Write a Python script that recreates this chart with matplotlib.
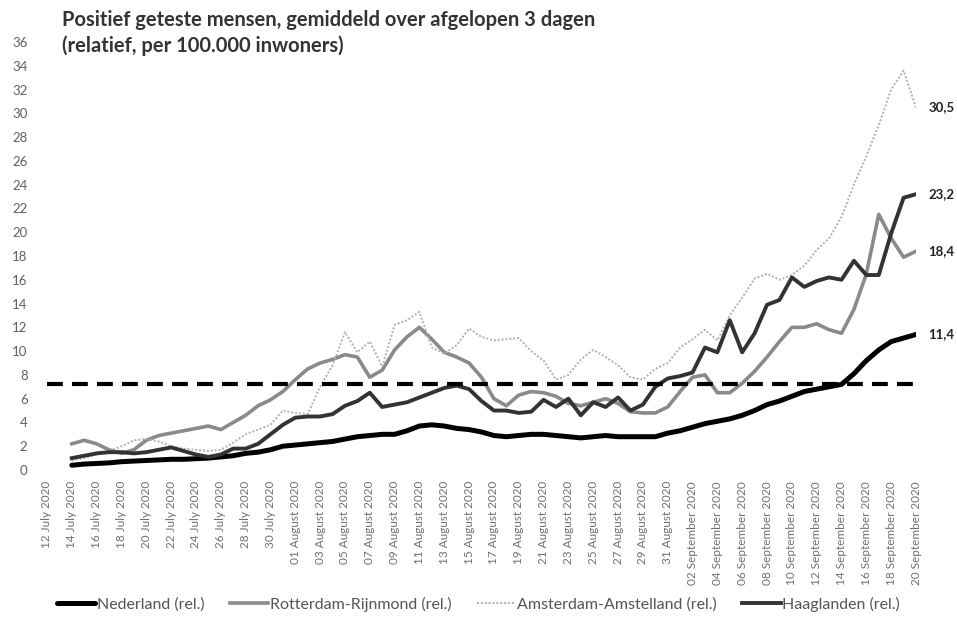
import matplotlib
matplotlib.use('Agg')
import matplotlib.pyplot as plt
import pandas as pd

plt.rcParams['font.family'] = ['Lato', 'DejaVu Sans']

# days since 12 July 2020 (0 = 12 July, 70 = 20 September)
n_days = 71
first_day = 2  # series start on 14 July

nederland = [0.4, 0.5, 0.55, 0.6, 0.7, 0.75, 0.8, 0.85, 0.9, 0.9,
             0.95, 1.0, 1.1, 1.2, 1.4, 1.5, 1.7, 2.0, 2.1, 2.2,
             2.3, 2.4, 2.6, 2.8, 2.9, 3.0, 3.0, 3.3, 3.7, 3.8,
             3.7, 3.5, 3.4, 3.2, 2.9, 2.8, 2.9, 3.0, 3.0, 2.9,
             2.8, 2.7, 2.8, 2.9, 2.8, 2.8, 2.8, 2.8, 3.1, 3.3,
             3.6, 3.9, 4.1, 4.3, 4.6, 5.0, 5.5, 5.8, 6.2, 6.6,
             6.8, 7.0, 7.2, 8.1, 9.2, 10.1, 10.8, 11.1, 11.4]

rotterdam = [2.2, 2.5, 2.2, 1.7, 1.4, 1.7, 2.5, 2.9, 3.1, 3.3,
             3.5, 3.7, 3.4, 4.0, 4.6, 5.4, 5.9, 6.6, 7.6, 8.5,
             9.0, 9.3, 9.7, 9.5, 7.8, 8.4, 10.1, 11.2, 12.0, 11.0,
             9.9, 9.5, 9.0, 7.8, 6.0, 5.4, 6.3, 6.6, 6.5, 6.2,
             5.6, 5.4, 5.7, 6.0, 5.6, 4.9, 4.8, 4.8, 5.3, 6.6,
             7.8, 8.0, 6.5, 6.5, 7.3, 8.3, 9.5, 10.8, 12.0, 12.0,
             12.3, 11.8, 11.5, 13.5, 16.5, 21.5, 19.5, 17.9, 18.4]

amsterdam = [0.8, 1.0, 1.3, 1.6, 2.0, 2.5, 2.6, 2.4, 2.0, 1.8,
             1.7, 1.6, 1.7, 2.3, 3.0, 3.4, 3.8, 5.0, 4.8, 4.7,
             7.0, 8.8, 11.6, 9.9, 10.8, 8.7, 12.2, 12.6, 13.3, 10.3,
             9.8, 10.5, 11.9, 11.2, 10.9, 11.0, 11.1, 10.0, 9.2, 7.6,
             8.0, 9.3, 10.1, 9.5, 8.8, 7.8, 7.6, 8.5, 9.0, 10.3,
             11.0, 11.8, 10.9, 13.0, 14.5, 16.1, 16.5, 16.0, 16.4, 17.2,
             18.5, 19.5, 21.3, 24.0, 26.4, 29.0, 32.0, 33.6, 30.5]

haaglanden = [1.0, 1.2, 1.4, 1.5, 1.5, 1.4, 1.5, 1.7, 1.9, 1.6,
              1.3, 1.1, 1.3, 1.8, 1.8, 2.2, 3.0, 3.8, 4.4, 4.5,
              4.5, 4.7, 5.4, 5.8, 6.5, 5.3, 5.5, 5.7, 6.1, 6.5,
              6.9, 7.1, 6.8, 5.8, 5.0, 5.0, 4.8, 4.9, 5.9, 5.3,
              6.0, 4.6, 5.7, 5.3, 6.1, 5.0, 5.5, 7.0, 7.7, 7.9,
              8.2, 10.3, 9.9, 12.6, 9.9, 11.5, 13.9, 14.3, 16.2, 15.4,
              15.9, 16.2, 16.0, 17.6, 16.4, 16.4, 19.9, 22.9, 23.2]

threshold = 7.2

labels = ['Nederland (rel.)', 'Rotterdam-Rijnmond (rel.)',
          'Amsterdam-Amstelland (rel.)', 'Haaglanden (rel.)']

dates = pd.date_range('2020-07-12', periods=n_days, freq='D')
tick_idx = list(range(0, n_days, 2))
tick_labels = [f"{dates[i].day:02d} {dates[i].strftime('%B')} {dates[i].year}" for i in tick_idx]

x = list(range(first_day, n_days))

fig = plt.figure(figsize=(9.57, 6.2), dpi=100)
ax = fig.add_axes([47 / 957, 150 / 620, 869 / 957, 428 / 620])

ax.plot(x, nederland, color='black', lw=3.6, label=labels[0], solid_capstyle='round')
ax.plot(x, rotterdam, color='#8a8a8a', lw=2.6, label=labels[1])
ax.plot(x, amsterdam, color='#b0b0b0', lw=1.4, ls=(0, (1, 1)), label=labels[2])
ax.plot(x, haaglanden, color='#333333', lw=2.8, label=labels[3])
ax.plot([0, n_days - 1], [threshold, threshold], color='black', lw=3, ls=(0, (3.8, 2.2)))

# end-of-line values
for series in [amsterdam, haaglanden, rotterdam, nederland]:
    ax.annotate(f"{series[-1]:.1f}".replace('.', ','), (n_days - 1, series[-1]),
                xytext=(9, 0), textcoords='offset points', va='center', ha='left',
                fontsize=9.5, color='#222222', fontweight='bold', annotation_clip=False)

ax.set_xlim(0, n_days - 1)
ax.set_ylim(0, 36)
ax.set_yticks(range(0, 37, 2))
ax.set_xticks(tick_idx)
ax.set_xticklabels(tick_labels, rotation=90, fontsize=8.5, color='#707070')
ax.tick_params(axis='y', labelsize=9.5, labelcolor='#606060', length=0, pad=14)
ax.tick_params(axis='x', length=0, pad=8)
for s in ax.spines.values():
    s.set_visible(False)

fig.text(62 / 957, 1 - 10 / 620,
         'Positief geteste mensen, gemiddeld over afgelopen 3 dagen\n(relatief, per 100.000 inwoners)',
         ha='left', va='top', fontsize=14.5, fontweight='bold', color='#333333', linespacing=1.3)

leg = fig.legend(loc='lower center', bbox_to_anchor=(0.5, -0.01), ncol=4, frameon=False,
                 fontsize=11.5, handlelength=2.4, handletextpad=0.1, columnspacing=1.6)
for t in leg.get_texts():
    t.set_color('#555555')

fig.savefig('out.png', dpi=100)
